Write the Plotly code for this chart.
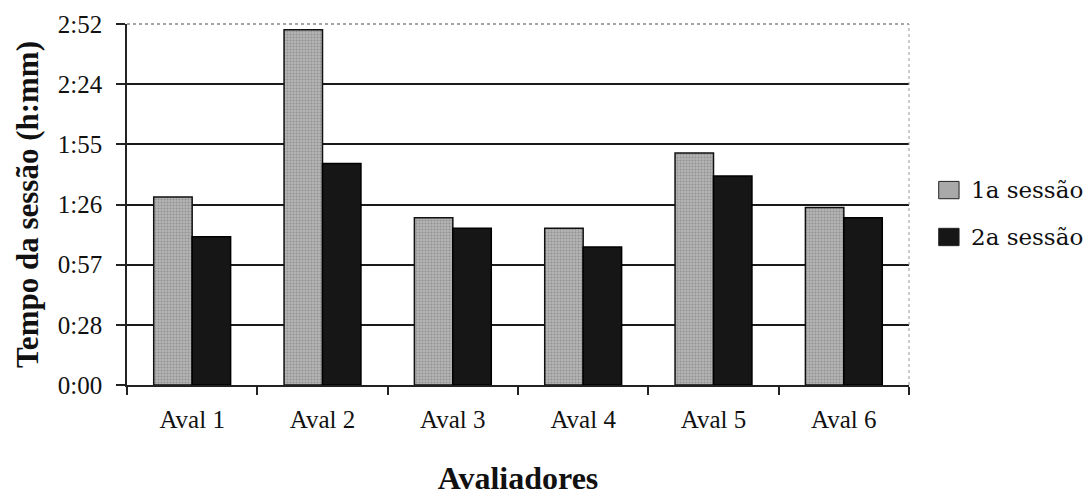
import plotly.graph_objects as go

# Session durations per evaluator, in minutes
avaliadores = ["Aval 1", "Aval 2", "Aval 3", "Aval 4", "Aval 5", "Aval 6"]
sessao_1 = [90, 170, 80, 75, 111, 85]
sessao_2 = [71, 106, 75, 66, 100, 80]
series_names = ["1a sessão", "2a sessão"]
series_colors = ["#a9a9a9", "#161616"]

# Axis steps of 0.02 day (28.8 min) shown as h:mm
tick_minutes = [0, 28.8, 57.6, 86.4, 115.2, 144.0, 172.8]
tick_labels = ["0:00", "0:28", "0:57", "1:26", "1:55", "2:24", "2:52"]

serif = "Liberation Serif, serif"
key_font = "DejaVu Serif, Liberation Serif, serif"

fig = go.Figure()
fig.add_trace(go.Bar(
    name=series_names[0], x=avaliadores, y=sessao_1,
    marker=dict(
        color=series_colors[0],
        line=dict(color="#111111", width=1.5),
        pattern=dict(shape=".", size=3, solidity=0.35,
                     fgcolor="#6e6e6e", bgcolor="#b4b4b4"),
    ),
))
fig.add_trace(go.Bar(
    name=series_names[1], x=avaliadores, y=sessao_2,
    marker=dict(color=series_colors[1], line=dict(color="#000000", width=1.5)),
))

# Key drawn beside the plot: swatch + label per session
key_shapes = []
key_labels = []
for i, (label, colour) in enumerate(zip(series_names, series_colors)):
    yc = 0.540 - i * 0.130
    key_shapes.append(dict(
        type="rect", xref="paper", yref="paper",
        x0=1.038, x1=1.064, y0=yc - 0.024, y1=yc + 0.024,
        fillcolor=colour, line=dict(color="#222222", width=1),
    ))
    key_labels.append(dict(
        text=label, xref="paper", yref="paper", x=1.077, y=yc,
        xanchor="left", yanchor="middle", showarrow=False,
        font=dict(family=key_font, size=23, color="#111111"),
    ))

fig.update_layout(
    width=1091, height=496,
    margin=dict(l=127, r=182, t=24, b=111),
    paper_bgcolor="white", plot_bgcolor="white",
    barmode="group", bargap=0.41, bargroupgap=0,
    font=dict(family=serif, color="#111111", size=24),
    showlegend=False,
    xaxis=dict(
        automargin=False,
        showline=True, linecolor="#222222", linewidth=1.5,
        ticks="outside", ticklen=8, tickcolor="#222222", tickwidth=1.5,
        tickson="boundaries", ticklabelstandoff=11,
        tickfont=dict(family=serif, size=25, color="#111111"),
        title=dict(text="<b>Avaliadores</b>", standoff=40,
                   font=dict(family=serif, size=32, color="#111111")),
        showgrid=False,
    ),
    yaxis=dict(
        automargin=False,
        range=[0, 172.8],
        tickvals=tick_minutes, ticktext=tick_labels,
        showline=True, linecolor="#222222", linewidth=1.5,
        ticks="outside", ticklen=9, tickcolor="#222222", tickwidth=1.5,
        ticklabelstandoff=9,
        tickfont=dict(family=serif, size=25, color="#111111"),
        showgrid=True, gridcolor="#1a1a1a", gridwidth=1.5,
        zeroline=False,
        title=dict(text="<b>Tempo da sessão (h:mm)</b>", standoff=10,
                   font=dict(family=serif, size=31, color="#111111")),
    ),
    shapes=[
        dict(type="line", xref="paper", yref="paper", x0=0, x1=1, y0=1, y1=1,
             line=dict(color="#888888", width=1.5, dash="dot")),
        dict(type="line", xref="paper", yref="paper", x0=1, x1=1, y0=0, y1=1,
             line=dict(color="#999999", width=1, dash="dot")),
    ] + key_shapes,
    annotations=key_labels,
)

fig.write_html("out.html")
